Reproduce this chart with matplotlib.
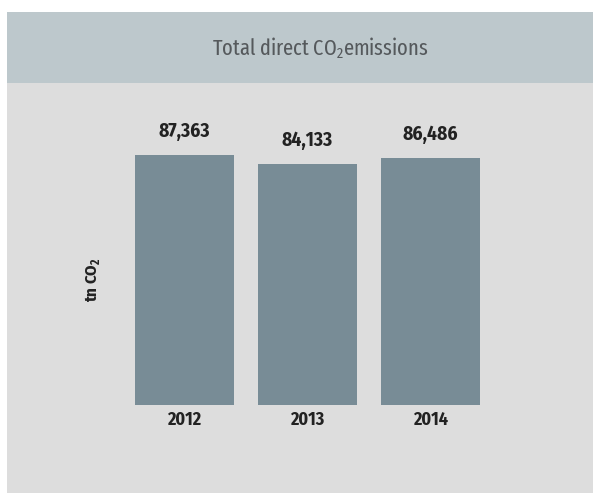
import matplotlib
matplotlib.use("Agg")
from matplotlib import pyplot as plt
from matplotlib.patches import Rectangle

years = ["2012", "2013", "2014"]
emissions = [87363, 84133, 86486]
title = "Total direct CO$_2$emissions"
ylabel = r"tn CO$_\mathbf{2}$"

font = ["Fira Sans Condensed", "DejaVu Sans"]
plt.rcParams["font.family"] = font
plt.rcParams["mathtext.fontset"] = "custom"
plt.rcParams["mathtext.rm"] = "Fira Sans Extra Condensed"
plt.rcParams["mathtext.bf"] = "Fira Sans Condensed:bold"

W, H = 593, 493
fig = plt.figure(figsize=(W / 100, H / 100), dpi=100)
fig.patch.set_facecolor("white")


def px(x, y, w, h):
    # pixel box (top-left origin) -> figure fraction
    return [x / W, 1 - (y + h) / H, w / W, h / H]


body = px(7, 83, 586, 410)
head = px(7, 12, 586, 71)
fig.patches.append(Rectangle(body[:2], body[2], body[3], transform=fig.transFigure,
                             facecolor="#dddddd", edgecolor="none", zorder=-2))
fig.patches.append(Rectangle(head[:2], head[2], head[3], transform=fig.transFigure,
                             facecolor="#bdc8cc", edgecolor="none", zorder=-2))
fig.text(320 / W, 1 - 48 / H, title, ha="center", va="center", fontsize=16,
         family=["Fira Sans Extra Condensed", "DejaVu Sans"], color="#55595c")

# axes placed so the bars land where they sit in the reference
ax_left, ax_right, ax_top, ax_bot = 100, 520, 93, 405
ax = fig.add_axes(px(ax_left, ax_top, ax_right - ax_left, ax_bot - ax_top))
ax.patch.set_visible(False)
step = 123
c0 = 184.5
ax.set_xlim((ax_left - c0) / step, (ax_right - c0) / step)
ax.set_ylim(0, emissions[0] * (ax_bot - ax_top) / 250)

xs = range(len(years))
ax.bar(xs, emissions, width=99 / step, color="#788c96")
for x, v in zip(xs, emissions):
    ax.annotate(f"{v:,}", (x, v), xytext=(0, 10), textcoords="offset points",
                ha="center", va="bottom", fontsize=14, fontweight="bold", color="#222222")

ax.set_xticks(list(xs))
ax.set_xticklabels(years, fontsize=13, fontweight="bold", color="#222222")
ax.tick_params(axis="x", length=0, pad=4)
ax.set_yticks([])
for s in ax.spines.values():
    s.set_visible(False)

fig.text(93 / W, 1 - 280 / H, ylabel, rotation=90, ha="center", va="center",
         fontsize=12, fontweight="bold", color="#222222")

fig.savefig("out.png", dpi=100)
